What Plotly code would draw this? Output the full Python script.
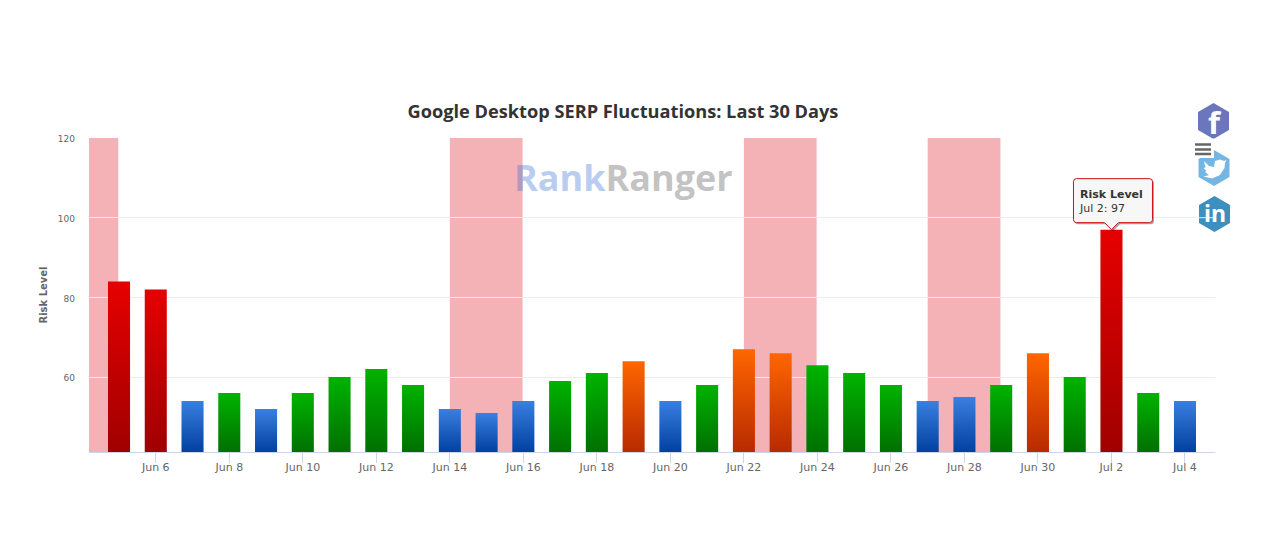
import json
import plotly.graph_objects as go

# values
dates = ["2019-06-05", "2019-06-06", "2019-06-07", "2019-06-08", "2019-06-09", "2019-06-10",
         "2019-06-11", "2019-06-12", "2019-06-13", "2019-06-14", "2019-06-15", "2019-06-16",
         "2019-06-17", "2019-06-18", "2019-06-19", "2019-06-20", "2019-06-21", "2019-06-22",
         "2019-06-23", "2019-06-24", "2019-06-25", "2019-06-26", "2019-06-27", "2019-06-28",
         "2019-06-29", "2019-06-30", "2019-07-01", "2019-07-02", "2019-07-03", "2019-07-04"]
risk = [84, 82, 54, 56, 52, 56, 60, 62, 58, 52, 51, 54, 59, 61, 64,
        54, 58, 67, 66, 63, 61, 58, 54, 55, 58, 66, 60, 97, 56, 54]
tick_dates = dates[1::2]
tick_labels = ["Jun 6", "Jun 8", "Jun 10", "Jun 12", "Jun 14", "Jun 16", "Jun 18", "Jun 20",
               "Jun 22", "Jun 24", "Jun 26", "Jun 28", "Jun 30", "Jul 2", "Jul 4"]
y_ticks = [60, 80, 100, 120]
bands = [("2019-06-04 04:24", "2019-06-04 23:30"), ("2019-06-14", "2019-06-15 23:30"),
         ("2019-06-22", "2019-06-23 23:30"), ("2019-06-27", "2019-06-28 23:30")]

# top / bottom of the gradient for each risk class
TOP = {"blue": "#3a80e0", "green": "#00b300", "orange": "#ff6600", "red": "#e60000"}
BOTTOM = {"blue": "#0040a0", "green": "#007000", "orange": "#b82a00", "red": "#a00000"}

W, H = 1265, 556
L, R, T, B = 89, 1215, 138, 452


def px(x):
    return (x - L) / (R - L)


def py(y):
    return (B - y) / (B - T)


def risk_class(v):
    if v >= 80:
        return "red"
    if v >= 64:
        return "orange"
    if v >= 56:
        return "green"
    return "blue"


def polygon(pts, color):
    path = "M" + " L".join(f"{px(a):.5f},{py(b):.5f}" for a, b in pts) + " Z"
    return dict(type="path", xref="paper", yref="paper", path=path, fillcolor=color,
                line=dict(width=0), layer="above")


def hexagon(cx, cy, color):
    # pointy-top hexagon, size in page pixels
    return polygon([(cx, cy - 18), (cx + 15.5, cy - 9), (cx + 15.5, cy + 9),
                    (cx, cy + 18), (cx - 15.5, cy + 9), (cx - 15.5, cy - 9)], color)


def tooltip_path(dx=0, dy=0):
    # rounded box with caret, pixels relative to the top of the Jul 2 bar (y goes up)
    x0, x1, y0, y1 = -38 + dx, 41 + dx, 7 + dy, 51 + dy
    return (f"M {x0 + 3},{y1} L {x1 - 3},{y1} Q {x1},{y1} {x1},{y1 - 3} L {x1},{y0 + 3} Q {x1},{y0} {x1 - 3},{y0} "
            f"L {7 + dx},{y0} L {dx},{dy} L {-7 + dx},{y0} L {x0 + 3},{y0} Q {x0},{y0} {x0},{y0 + 3} "
            f"L {x0},{y1 - 3} Q {x0},{y1} {x0 + 3},{y1} Z")


classes = [risk_class(v) for v in risk]

fig = go.Figure(go.Bar(
    x=dates,
    y=risk,
    marker=dict(color=[TOP[c] for c in classes], line=dict(width=0)),
    name="Risk Level",
    hovertemplate="%{x|%b %-d}: %{y}<extra>Risk Level</extra>",
))

shapes = []
for x0, x1 in bands:
    shapes.append(dict(type="rect", xref="x", yref="paper", x0=x0, x1=x1, y0=0, y1=1,
                       fillcolor="rgba(226,35,46,0.35)", line=dict(width=0), layer="below"))

# social icons on the right
shapes.append(hexagon(1213.5, 121, "#6b76bd"))
shapes.append(hexagon(1214, 168, "#74b6e3"))
shapes.append(hexagon(1214.5, 214, "#3d8fbf"))
# twitter bird
shapes.append(polygon([(1204, 161), (1209, 166), (1214, 167), (1215, 161), (1220, 159.5), (1224, 161),
                       (1226.5, 160), (1225, 163), (1224.5, 168), (1220, 175), (1212, 178.5),
                       (1203.5, 176.5), (1209, 175), (1205, 172), (1206.5, 171), (1203.5, 168),
                       (1205.5, 167.5)], "#ffffff"))
# export menu sits over the icons
shapes.append(dict(type="rect", xref="paper", yref="paper", x0=px(1191), x1=px(1214), y0=py(158), y1=py(140),
                   fillcolor="#ffffff", line=dict(width=0), layer="above"))
for y in (144.5, 149.5, 154):
    shapes.append(dict(type="line", xref="paper", yref="paper", x0=px(1195), x1=px(1211), y0=py(y), y1=py(y),
                       line=dict(color="#666666", width=2.5), layer="above"))
# grid runs across the icons
for v in (120, 100):
    shapes.append(dict(type="line", xref="paper", yref="y", x0=px(1199), x1=1, y0=v, y1=v,
                       line=dict(color="#ececec", width=1), layer="above"))

# tooltip shadow and box
shapes.append(dict(type="path", xref="x", yref="y", xsizemode="pixel", ysizemode="pixel",
                   xanchor="2019-07-02", yanchor=97, path=tooltip_path(1.5, -1.5),
                   fillcolor="rgba(0,0,0,0.35)", line=dict(width=0), layer="above"))
shapes.append(dict(type="path", xref="x", yref="y", xsizemode="pixel", ysizemode="pixel",
                   xanchor="2019-07-02", yanchor=97, path=tooltip_path(),
                   fillcolor="#f7f7f7", line=dict(color="#cc1018", width=1), layer="above"))

annotations = [
    # watermark
    dict(xref="paper", yref="paper", x=px(623), y=py(177), xanchor="center", yanchor="middle", showarrow=False,
         text="<b><span style='color:rgba(50,110,210,0.36)'>Rank</span>"
              "<span style='color:rgba(120,120,120,0.45)'>Ranger</span></b>",
         font=dict(family="Open Sans", size=36)),
    # icon letters
    dict(xref="paper", yref="paper", x=px(1215), y=py(122), xanchor="center", yanchor="middle", showarrow=False,
         text="<b>f</b>", font=dict(family="Open Sans", size=31, color="#ffffff")),
    dict(xref="paper", yref="paper", x=px(1215), y=py(213), xanchor="center", yanchor="middle", showarrow=False,
         text="<b>in</b>", font=dict(family="Open Sans", size=23, color="#ffffff")),
    # tooltip for the last peak
    dict(xref="x", yref="y", x="2019-07-02", y=97, xanchor="left", yanchor="bottom", yshift=12.5, xshift=-34,
         showarrow=False, align="left",
         text="<b>Risk Level</b><br>Jul 2: 97",
         font=dict(family="DejaVu Sans", size=11, color="#333333")),
]

fig.update_layout(
    width=W,
    height=H,
    margin=dict(l=L, r=W - R, t=T, b=H - B, pad=0),
    paper_bgcolor="white",
    plot_bgcolor="white",
    showlegend=False,
    bargap=0.4,
    font=dict(family="DejaVu Sans", color="#666666"),
    title=dict(
        text="<b>Google Desktop SERP Fluctuations: Last 30 Days</b>",
        x=623 / W, y=1 - 112 / H, xanchor="center", yanchor="middle",
        font=dict(family="Open Sans", size=18.2, color="#333333"),
    ),
    xaxis=dict(
        type="date",
        range=["2019-06-04 04:24", "2019-07-04 19:36"],
        tickmode="array",
        tickvals=tick_dates,
        ticktext=tick_labels,
        ticks="outside",
        ticklen=10,
        tickcolor="#ccd6eb",
        ticklabelstandoff=-5,
        showgrid=False,
        showline=True,
        linecolor="#ccd6eb",
        linewidth=1,
        zeroline=False,
        tickfont=dict(size=11, color="#666666"),
    ),
    yaxis=dict(
        range=[41.2, 120],
        tickmode="array",
        tickvals=y_ticks,
        gridcolor="#ececec",
        gridwidth=1,
        zeroline=False,
        showline=False,
        ticks="",
        ticklabelstandoff=13,
        ticklabelshift=1,
        tickfont=dict(size=9, color="#666666"),
        title=dict(text="<b>Risk Level</b>", standoff=8, font=dict(size=10, color="#666666")),
    ),
    shapes=shapes,
    annotations=annotations,
)

# plotly bars have no gradient fill, so add them to the svg after drawing
post_script = """
document.body.style.margin = '0';
var gd = document.getElementById('{plot_id}');
var classes = %s, TOP = %s, BOTTOM = %s;
var NS = 'http://www.w3.org/2000/svg';
function paintBars() {
    var svg = gd.querySelector('.main-svg');
    var defs = svg.querySelector('defs');
    var floor = gd._fullLayout.yaxis._length;
    gd.querySelectorAll('.bars .point path').forEach(function(bar, i) {
        var id = 'bar-grad-' + i, old = document.getElementById(id);
        if (old) old.remove();
        var grad = document.createElementNS(NS, 'linearGradient');
        grad.setAttribute('id', id);
        grad.setAttribute('gradientUnits', 'userSpaceOnUse');
        grad.setAttribute('x1', 0); grad.setAttribute('x2', 0);
        grad.setAttribute('y1', bar.getBBox().y); grad.setAttribute('y2', floor);
        [[0, TOP], [1, BOTTOM]].forEach(function(s) {
            var stop = document.createElementNS(NS, 'stop');
            stop.setAttribute('offset', s[0]);
            stop.setAttribute('stop-color', s[1][classes[i]]);
            grad.appendChild(stop);
        });
        defs.appendChild(grad);
        bar.style.fill = 'url(#' + id + ')';
    });
}
paintBars();
gd.on('plotly_afterplot', paintBars);
""" % (json.dumps(classes), json.dumps(TOP), json.dumps(BOTTOM))

fig.write_html("out.html", post_script=post_script, config=dict(displayModeBar=False))
